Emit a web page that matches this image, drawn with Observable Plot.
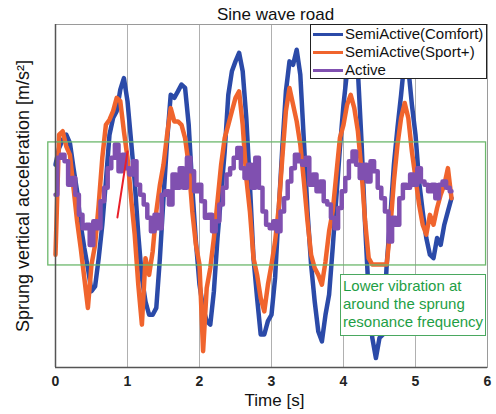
<!DOCTYPE html>
<html><head><meta charset="utf-8">
<script src="https://cdn.jsdelivr.net/npm/d3@7"></script>
<script src="https://cdn.jsdelivr.net/npm/@observablehq/plot@0.6"></script>
<style>
body{margin:0;background:#fff;font-family:"Liberation Sans",Arial,sans-serif}
#wrap{position:relative;width:496px;height:414px;overflow:hidden}
#legend{position:absolute;left:310px;top:24px;width:177px;height:55px;box-sizing:border-box;border:1px solid #222;background:#fff;padding-top:0px}
#legend .row{height:18px;line-height:18px;font-size:15px;color:#111;white-space:nowrap}
#legend .sw{display:inline-block;width:30px;height:3px;vertical-align:middle;margin:0 2px 2px 2px}
#note{position:absolute;left:340px;top:274px;width:146px;height:62px;box-sizing:border-box;border:1.5px solid #4aa860;background:#fff;color:#1e9e45;font-size:15px;line-height:18px;padding:2px 0 0 2px;white-space:nowrap}
</style></head><body><div id="wrap"></div>
<script>
// sampling step of the recorded traces [s]
const dt = 0.05;
const comfort = [0.73,1.12,1.31,1.43,1.24,0.65,0.11,-0.67,-1.21,-1.68,
-2.22,-2.11,-1.45,-0.67,0.34,1.43,1.82,1.98,2.48,2.75,
2.21,1.28,0.34,-0.90,-1.91,-2.46,-2.77,-2.77,-2.61,-1.45,
-0.05,1.28,2.36,2.29,2.44,2.60,2.52,1.66,0.19,-1.06,
-2.07,-2.61,-2.92,-3.00,-2.22,-0.98,0.03,1.04,2.36,2.91,
3.14,3.34,2.91,1.82,0.26,-1.45,-2.38,-3.23,-3.23,-2.92,
-2.77,-1.91,-0.36,1.12,2.44,3.14,3.06,3.41,2.83,1.28,
-0.36,-1.60,-2.46,-3.16,-3.39,-2.77,-2.30,-1.21,-0.05,1.12,
2.13,2.91,3.30,3.37,2.91,1.28,-0.67,-2.30,-3.31,-3.78,
-3.31,-3.23,-1.60,-0.51,0.73,1.59,2.36,3.22,2.99,2.13,
1.43,0.34,-0.36,-0.98,-1.37,-1.45,-0.98,-1.14,-0.67,-0.36,
-0.05];
const sport = [-1.37,1.43,1.51,1.16,0.96,0.19,-0.59,-1.21,-1.91,-2.61,
-1.60,-1.14,-0.20,0.89,1.66,1.78,1.98,2.29,2.21,1.51,
0.89,-0.05,-0.90,-2.07,-3.00,-1.45,-1.84,-1.29,-0.36,0.26,
0.73,1.43,2.05,1.74,1.74,1.66,1.35,0.73,-0.36,-1.14,
-1.60,-3.62,-2.15,-1.68,-0.98,-0.12,0.73,1.35,1.66,1.98,
2.29,2.44,1.66,0.42,-0.36,-1.45,-1.84,-2.38,-2.69,-2.07,
-1.60,-1.06,-0.28,0.89,1.98,2.52,2.13,1.74,1.20,0.34,
-0.59,-1.37,-1.68,-1.84,-2.07,-1.53,-0.82,-0.36,0.50,1.35,
1.66,2.13,2.36,2.05,1.51,0.58,-0.59,-1.45,-1.60,-1.60,
-1.60,-1.60,-1.60,-0.75,0.34,1.20,1.82,2.17,1.82,1.04,
0.42,-0.20,-0.67,-0.90,-0.44,-0.67,-0.28,0.03,0.26,0.65,
-0.05];
const active = [0.03,0.89,0.96,0.81,0.26,0.42,0.03,-0.44,-0.75,-0.67,
-1.14,-0.59,-0.75,-0.12,0.19,0.65,0.89,1.20,0.58,0.96,
0.65,0.50,0.81,0.26,0.03,-0.20,-0.51,-0.82,-0.44,-0.75,
0.03,0.11,-0.20,0.50,0.19,0.65,0.19,0.89,0.58,0.11,
0.26,-0.12,-0.51,-0.44,-0.82,-0.59,-0.20,0.19,0.50,0.65,
0.89,1.12,0.65,0.42,0.73,0.19,0.89,0.19,-0.36,-0.67,
-0.75,-0.59,-0.82,-0.36,-0.05,0.34,0.65,0.96,0.81,0.73,
0.89,0.26,0.50,0.11,0.34,-0.12,-0.20,-0.51,-0.75,-0.28,
0.11,0.42,0.81,1.04,0.73,0.42,0.73,0.34,0.81,0.58,
0.19,-0.05,-0.36,-1.06,-0.51,-0.67,-0.05,0.26,0.19,0.50,
0.26,0.65,0.34,0.26,0.11,0.26,-0.05,0.26,0.34,0.19,
0.11];
// short red trace visible near t = 0.9 s
const redT = [0.86, 1.0];
const redV = [-0.50, 1.04];
const seriesNames = ["SemiActive(Comfort)", "SemiActive(Sport+)", "Active"];
const seriesColors = ["#2b4aa8", "#f0642d", "#8050b0"];
const xTicks = [0, 1, 2, 3, 4, 5, 6];
const gridTicks = [1, 2, 3, 4, 5];
// highlighted band (time from/to, acceleration low/high)
const bandT = [-0.1, 5.98];
const bandV = [-1.62, 1.25];
const title = "Sine wave road";
const xLabel = "Time [s]";
const yLabel = "Sprung vertical acceleration [m/s²]";
const noteLines = ["Lower vibration at", "around the sprung", "resonance frequency"];

const seriesValues = [comfort, sport, active];
const rows = s => seriesValues[s].map((v, i) => ({t: +(i * dt).toFixed(2), v, series: seriesNames[s]}));
const semiTable = [...rows(0), ...rows(1)];
const activeTable = rows(2);
const red = redT.map((t, i) => ({t, v: redV[i]}));
const band = [{t1: bandT[0], t2: bandT[1], v1: bandV[0], v2: bandV[1]}];

const font = '"Liberation Sans", Arial, sans-serif';
const chart = Plot.plot({
  width: 496, height: 414,
  marginTop: 24, marginRight: 9, marginBottom: 47, marginLeft: 55,
  style: {fontFamily: font, background: "white", overflow: "visible"},
  x: {domain: [0, 6]},
  y: {domain: [-4, 4], axis: null},
  color: {domain: seriesNames, range: seriesColors},
  marks: [
    Plot.ruleX(gridTicks, {stroke: "#b0b0b0", strokeWidth: 1}),
    Plot.line(semiTable, {x: "t", y: "v", z: "series", stroke: "series", strokeWidth: 4.5, curve: "linear", strokeLinejoin: "round"}),
    Plot.line(activeTable, {x: "t", y: "v", stroke: "series", strokeWidth: 4.5, curve: "step", strokeLinejoin: "round"}),
    Plot.line(red, {x: "t", y: "v", stroke: "#e8202a", strokeWidth: 2}),
    Plot.rect(band, {x1: "t1", x2: "t2", y1: "v1", y2: "v2", fill: "none", stroke: "#6cb86c", strokeWidth: 1.3}),
    Plot.frame({stroke: "#9a9a9a", strokeWidth: 1}),
    Plot.ruleX([0], {stroke: "#555", strokeWidth: 1.5}),
    Plot.ruleY([-4], {stroke: "#555", strokeWidth: 1.5}),
    Plot.axisX(xTicks, {tickSize: 0, tickPadding: 9, fontSize: 14, fontWeight: "bold", fill: "#222", label: null, tickFormat: d => d}),
    Plot.text([title], {frameAnchor: "top", text: d => d, dy: -10, dx: 4, fontSize: 17, textAnchor: "middle", lineAnchor: "middle", fill: "#111"}),
    Plot.text([xLabel], {frameAnchor: "bottom", text: d => d, dy: 33, dx: 3, fontSize: 17, textAnchor: "middle", lineAnchor: "middle", fill: "#111"}),
    Plot.text([yLabel], {frameAnchor: "left", text: d => d, dx: -32, rotate: -90, fontSize: 18, textAnchor: "middle", lineAnchor: "middle", fill: "#111"})
  ]
});
const wrap = document.getElementById("wrap");
wrap.appendChild(chart);

const legend = document.createElement("div");
legend.id = "legend";
seriesNames.forEach((name, i) => {
  const row = document.createElement("div");
  row.className = "row";
  const sw = document.createElement("span");
  sw.className = "sw";
  sw.style.background = seriesColors[i];
  row.appendChild(sw);
  row.appendChild(document.createTextNode(name));
  legend.appendChild(row);
});
wrap.appendChild(legend);

const note = document.createElement("div");
note.id = "note";
note.innerHTML = noteLines.join("<br>");
wrap.appendChild(note);
</script>
</body></html>
